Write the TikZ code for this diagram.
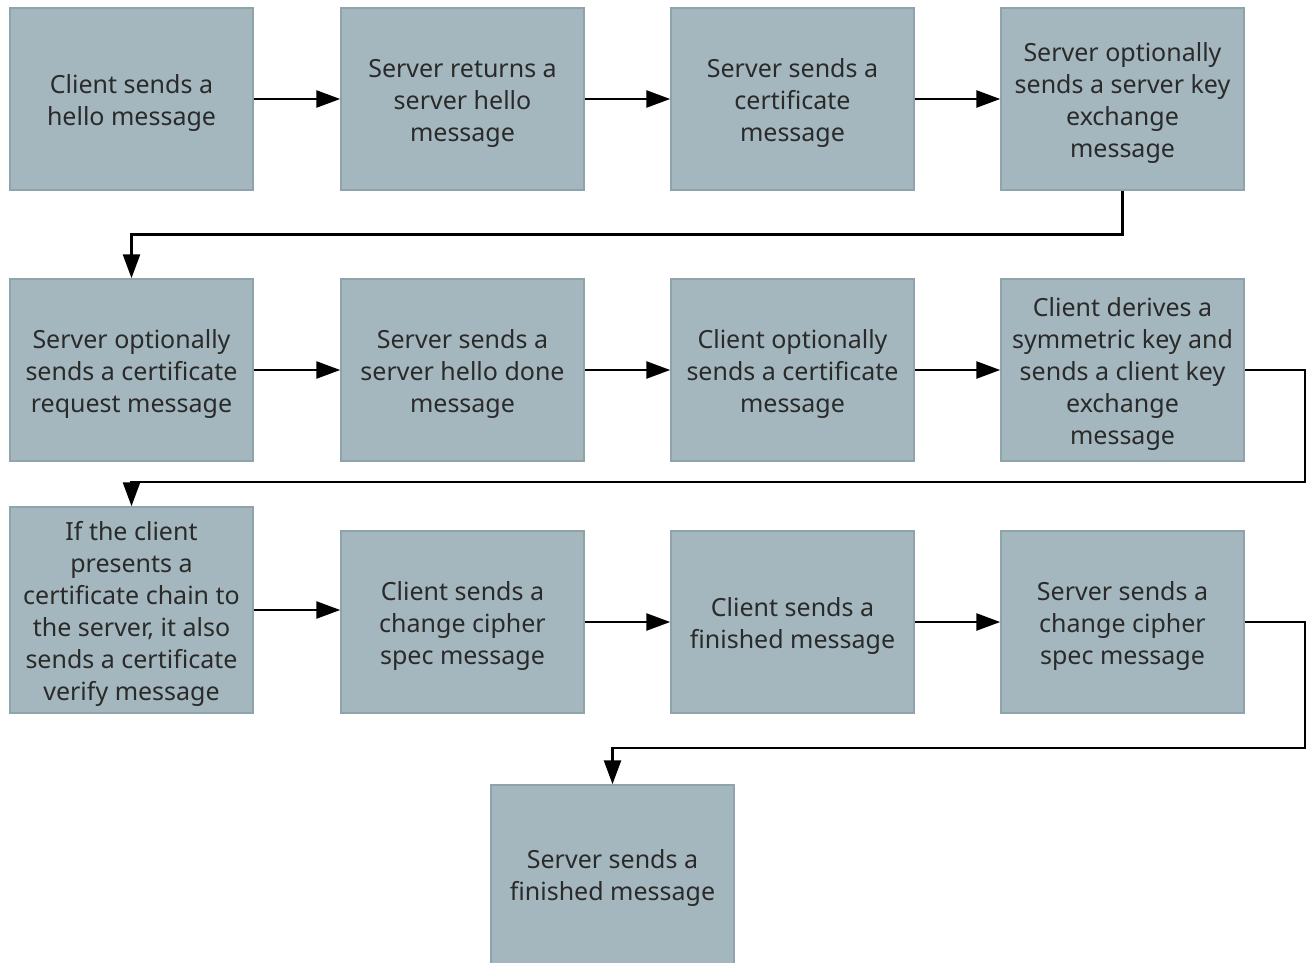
\documentclass[tikz,border=0pt]{standalone}
\usepackage{fontspec}
\setmainfont{Noto Sans}
\usetikzlibrary{arrows.meta}
\definecolor{boxfill}{HTML}{A4B7BF}
\definecolor{boxline}{HTML}{8FA3AB}
\definecolor{txt}{HTML}{2A2A2A}
\newcommand\boxtxt[2][-4pt]{\raisebox{#1}[\height][\depth]{\begin{tabular}{@{}c@{}}#2\end{tabular}}}
\begin{document}
\begin{tikzpicture}[x=1pt,y=-1pt,
  stepbox/.style={draw=boxline, line width=1.5pt, fill=boxfill, minimum width=243pt,
    minimum height=182pt, inner sep=0pt, align=center, text=txt,
    font=\fontsize{25}{32}\selectfont},
  flow/.style={line width=2.6pt, -{Triangle[length=24pt,width=17pt]}}]
\useasboundingbox (0,0) rectangle (1311,963);
\clip (0,0) rectangle (1311,963);
\fill[white] (0,0) rectangle (1311,963);
% row 1
\node[stepbox] (b1) at (131.5,99) {\boxtxt{Client sends a\\hello message}};
\node[stepbox] (b2) at (462.5,99) {\boxtxt{Server returns a\\server hello\\message}};
\node[stepbox] (b3) at (792.5,99) {\boxtxt{Server sends a\\certificate\\message}};
\node[stepbox] (b4) at (1122.5,99) {\boxtxt{Server optionally\\sends a server key\\exchange\\message}};
% row 2
\node[stepbox] (b5) at (131.5,370) {\boxtxt{Server optionally\\sends a certificate\\request message}};
\node[stepbox] (b6) at (462.5,370) {\boxtxt{Server sends a\\server hello done\\message}};
\node[stepbox] (b7) at (792.5,370) {\boxtxt{Client optionally\\sends a certificate\\message}};
\node[stepbox] (b8) at (1122.5,370) {\boxtxt{Client derives a\\symmetric key and\\sends a client key\\exchange\\message}};
% row 3
\node[stepbox, minimum height=206pt] (b9) at (131.5,610) {\boxtxt{If the client\\presents a\\certificate chain to\\the server, it also\\sends a certificate\\verify message}};
\node[stepbox] (b10) at (462.5,622) {\boxtxt{Client sends a\\change cipher\\spec message}};
\node[stepbox] (b11) at (792.5,622) {\boxtxt{Client sends a\\finished message}};
\node[stepbox] (b12) at (1122.5,622) {\boxtxt{Server sends a\\change cipher\\spec message}};
% row 4
\node[stepbox, minimum height=182pt] (b13) at (612.5,876) {\boxtxt[-2pt]{Server sends a\\finished message}};
% coordinates for bends
\coordinate (r2) at (1305,482);
\coordinate (r3) at (1305,748);
% connectors
\draw[flow] (b1) -- (b2);
\draw[flow] (b2) -- (b3);
\draw[flow] (b3) -- (b4);
\draw[flow] (b4.south) -- ++(0,44) -| (b5.north);
\draw[flow] (b5) -- (b6);
\draw[flow] (b6) -- (b7);
\draw[flow] (b7) -- (b8);
\draw[flow] (b8.east) -| (r2) -| (b9.north);
\draw[flow] (b9.east) -- (b9.east -| b10.west);
\draw[flow] (b10) -- (b11);
\draw[flow] (b11) -- (b12);
\draw[flow] (b12.east) -| (r3) -| (b13.north);
\end{tikzpicture}
\end{document}
